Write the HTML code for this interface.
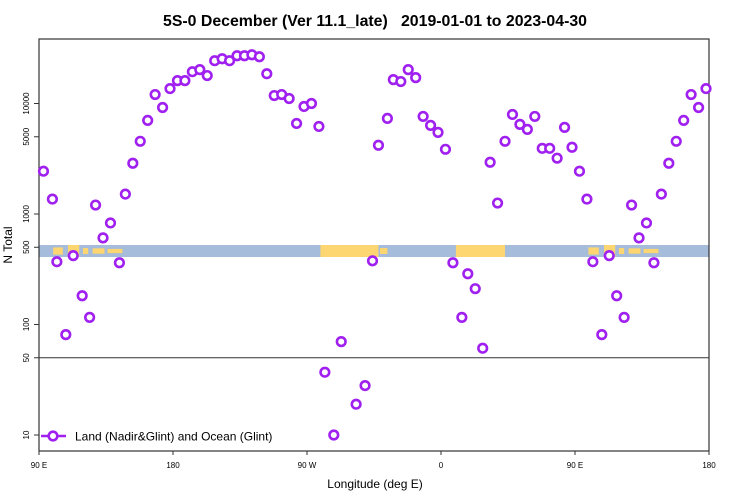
<!DOCTYPE html>
<html><head><meta charset="utf-8"><style>
html,body{margin:0;padding:0;background:#fff;}
svg{display:block;font-family:"Liberation Sans",sans-serif;}
</style></head><body>
<svg id="chart" width="750" height="500">
<rect x="0" y="0" width="750" height="500" fill="#fff"/>
<text x="375" y="26" text-anchor="middle" font-size="16" font-weight="bold" textLength="424" lengthAdjust="spacingAndGlyphs" style="white-space:pre" xml:space="preserve">5S-0 December (Ver 11.1_late)   2019-01-01 to 2023-04-30</text>
<g id="band"></g>
<g id="axes"></g>
<g id="points"></g>
<g>
<line x1="41" y1="436" x2="66" y2="436" stroke="#a020f0" stroke-width="2.5"/>
<circle cx="53" cy="436" r="4.3" fill="#fff" stroke="#a020f0" stroke-width="2.6"/>
<text x="75" y="440.5" font-size="12">Land (Nadir&amp;Glint) and Ocean (Glint)</text>
</g>
<text x="375" y="488" text-anchor="middle" font-size="12">Longitude (deg E)</text>
<text transform="translate(12,245) rotate(-90)" text-anchor="middle" font-size="12">N Total</text>
</svg>
<script>
const lons=[93,99,102,108,113,119,124,128,133,138,144,148,153,158,163,168,173,178,183,188,193,198,203,208,213,218,223,228,233,238,243,248,253,258,263,268,273,278,282,288,293,303,309,314,318,324,328,333,338,343,348,353,358,363,368,374,378,383,388,393,398,403,408,413,418,423,428,433,438,443,448,453,458,462,468,473,478,483,488,493,498,503,508,513,518,523,528,533,538];
const counts=[2440,1365,370,81,420,182,116,1205,608,830,362,1514,2880,4550,7030,12050,9200,13650,16100,16100,19400,20250,17900,24400,25400,24400,27050,27050,27600,26500,18600,11800,12050,11100,6600,9400,10000,6200,37,10,70,19,28,377,4190,7330,16450,15800,20250,17150,7640,6340,5480,3850,362,116,288,211,61,2940,1256,4550,7960,6470,5830,7640,3930,3930,3200,6080,4020,2440,1365,370,81,420,182,116,1205,608,830,362,1514,2880,4550,7030,12050,9200,13650];
const xTickVals=[90,180,270,360,450,540];
const xTickLabels=["90 E","180","90 W","0","90 E","180"];
const yTickVals=[10,50,100,500,1000,5000,10000];
const refLineVal=50;
// land (yellow) segments in the surface band: longitude ranges and fill fraction of band height
const landStart=[99.5,109.5,119.5,126,136,279,319,370,459,469.5,479.5,486,496];
const landEnd=[106,117,123,134,146,318,324,403,466,477,483,494,506];
const landFrac=[0.6,1,0.5,0.45,0.35,1,0.5,1,0.6,1,0.5,0.45,0.35];

const NS='http://www.w3.org/2000/svg';
const X0=39,X1=709,Y10=435,DEC=110.5;
function xs(l){return X0+(l-90)*(X1-X0)/450;}
function ys(v){return Y10-DEC*(Math.log10(v)-1);}
function mk(tag,attrs,parent){const e=document.createElementNS(NS,tag);for(const k in attrs)e.setAttribute(k,attrs[k]);parent.appendChild(e);return e;}

const band=document.getElementById('band');
let r=mk('rect',{x:X0,y:245,width:X1-X0,height:12,fill:'#a6bcdb'},band);


for(let i=0;i<landStart.length;i++){
  const a=xs(landStart[i]),b=xs(landEnd[i]);
  const h=12*landFrac[i];
  const lr=mk('rect',{x:a,y:245+(12-h)/2,width:b-a,height:h,fill:'#fdd571'},band);
  
  
}

const ax=document.getElementById('axes');
let f=mk('rect',{x:X0,y:39,width:X1-X0,height:451-39,fill:'none',stroke:'#333','stroke-width':1.2},ax);


let rl=mk('line',{x1:X0,x2:X1,y1:ys(refLineVal),y2:ys(refLineVal),stroke:'#333','stroke-width':1},ax);


xTickVals.forEach((v,i)=>{
  const x=xs(v);
  const t=mk('line',{x1:x,x2:x,y1:451,y2:455,stroke:'#333'},ax);
  
  
  const tx=mk('text',{x:x,y:468,'text-anchor':'middle','font-size':8},ax);
  tx.textContent=xTickLabels[i];
  
  
});
yTickVals.forEach(v=>{
  const y=ys(v);
  const t=mk('line',{x1:X0-5,x2:X0,y1:y,y2:y,stroke:'#333'},ax);
  
  
  const tx=mk('text',{transform:'translate(29,'+y+') rotate(-90)','text-anchor':'middle','font-size':8},ax);
  tx.textContent=String(v);
  
  
});

const pts=document.getElementById('points');
lons.forEach((l,i)=>{
  const c=mk('circle',{cx:xs(l),cy:ys(counts[i]),r:4.3,fill:'#fff',stroke:'#a020f0','stroke-width':2.6},pts);
  
  
});
</script>
</body></html>
